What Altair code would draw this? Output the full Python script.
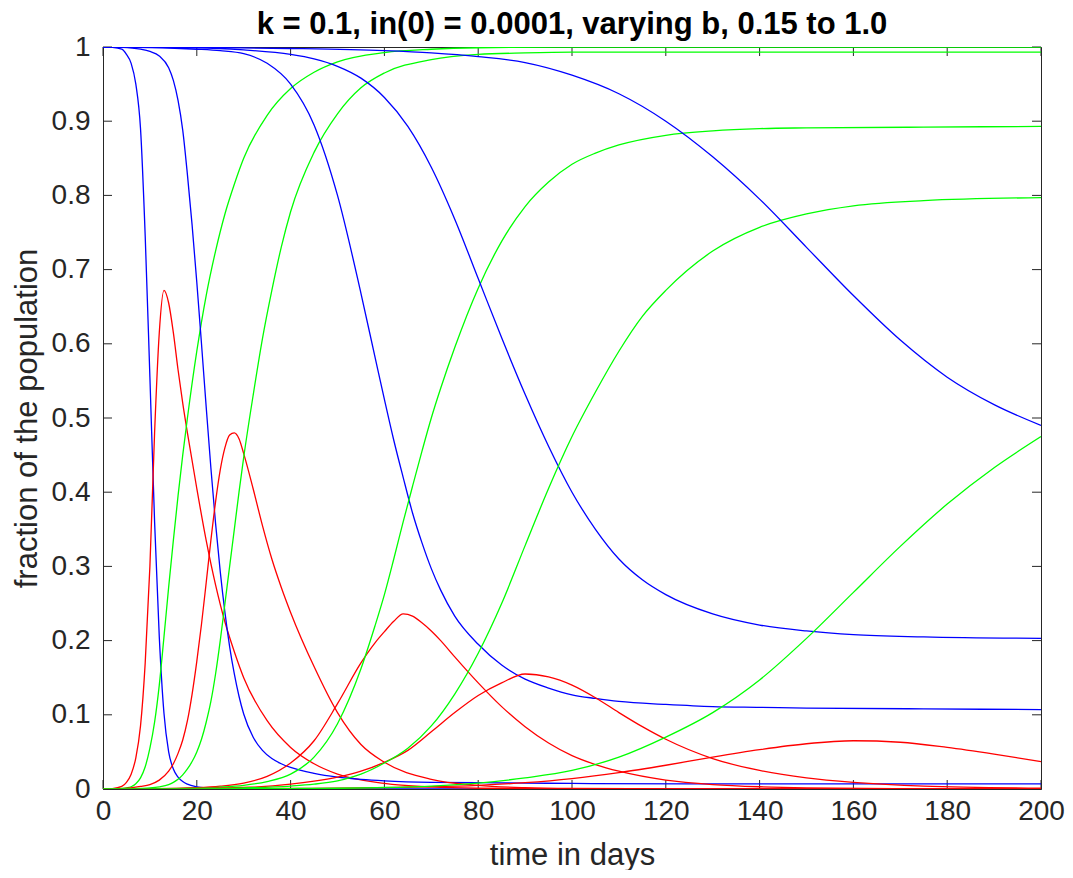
import altair as alt
import pandas as pd

# ---- data (t in days, fractions of population) ----
t_b100 = [0, 2, 4, 5, 6, 7, 8, 9, 10, 11, 12, 13, 14, 15, 16, 17, 18, 20, 22, 24,
          26, 28, 30, 35, 40, 45, 50, 60, 70, 80, 100, 125, 150, 175, 200]
S_b100 = [1.0, 0.9995, 0.997, 0.99, 0.978, 0.95, 0.89, 0.745, 0.555, 0.36,
          0.205, 0.102, 0.05, 0.027, 0.016, 0.01, 0.0065, 0.003, 0.0014, 0.0007,
          0.0004, 0.0002, 0.0001, 0.00006, 0.00005, 0.00005, 0.00005, 0.00005, 0.00005, 0.00005,
          0.00005, 0.00005, 0.00005, 0.00005, 0.00005]
I_b100 = [0.0001, 0.0006, 0.0035, 0.009, 0.02, 0.042, 0.085, 0.17, 0.3, 0.48,
          0.615, 0.672, 0.655, 0.615, 0.565, 0.52, 0.48, 0.405, 0.335, 0.275,
          0.225, 0.185, 0.15, 0.092, 0.056, 0.034, 0.02, 0.0075, 0.0028, 0.001,
          0.00015, 0.00001, 0.0, 0.0, 0.0]
R_b100 = [0.0, 0.0002, 0.0008, 0.0015, 0.003, 0.007, 0.015, 0.03, 0.055, 0.09,
          0.14, 0.205, 0.272, 0.335, 0.395, 0.45, 0.5, 0.59, 0.665, 0.725,
          0.775, 0.815, 0.85, 0.908, 0.944, 0.966, 0.98, 0.9925, 0.997, 0.999,
          1.0, 1.0, 1.0, 1.0, 1.0]

t_b050 = [0, 4, 8, 10, 12, 14, 15, 16, 17, 18, 19, 20, 21, 22, 23, 24, 25, 26, 27, 28,
          29, 30, 32, 34, 36, 38, 40, 45, 50, 55, 60, 70, 80, 90, 100, 125, 150, 175, 200]
S_b050 = [1.0, 0.9995, 0.997, 0.994, 0.988, 0.972, 0.955, 0.928, 0.888, 0.828,
          0.76, 0.683, 0.6, 0.515, 0.433, 0.358, 0.293, 0.238, 0.192, 0.155,
          0.125, 0.101, 0.07, 0.052, 0.041, 0.034, 0.029, 0.021, 0.016, 0.013,
          0.011, 0.009, 0.0085, 0.008, 0.0075, 0.007, 0.007, 0.007, 0.007]
I_b050 = [0.0001, 0.0006, 0.0035, 0.006, 0.012, 0.024, 0.034, 0.048, 0.066, 0.092,
          0.128, 0.172, 0.222, 0.278, 0.335, 0.387, 0.43, 0.46, 0.477, 0.48,
          0.472, 0.452, 0.405, 0.355, 0.31, 0.272, 0.238, 0.165, 0.103, 0.06,
          0.036, 0.013, 0.005, 0.0018, 0.0007, 0.0001, 0.0, 0.0, 0.0]
R_b050 = [0.0, 0.0001, 0.0008, 0.0015, 0.003, 0.006, 0.009, 0.013, 0.019, 0.027,
          0.037, 0.05, 0.067, 0.09, 0.118, 0.155, 0.2, 0.25, 0.3, 0.35,
          0.4, 0.447, 0.53, 0.607, 0.672, 0.73, 0.778, 0.858, 0.91, 0.945,
          0.965, 0.983, 0.99, 0.992, 0.993, 0.993, 0.993, 0.993, 0.993]

t_b025 = [0, 10, 20, 25, 30, 35, 40, 45, 50, 55, 58, 60, 62, 64, 66, 68, 70, 72, 75, 80,
          85, 90, 95, 100, 105, 110, 120, 130, 140, 150, 175, 200]
S_b025 = [1.0, 0.9993, 0.997, 0.995, 0.991, 0.978, 0.95, 0.895, 0.8, 0.668,
          0.582, 0.525, 0.47, 0.42, 0.372, 0.332, 0.297, 0.268, 0.233, 0.195,
          0.167, 0.148, 0.136, 0.127, 0.122, 0.118, 0.114, 0.111, 0.11, 0.109,
          0.108, 0.107]
I_b025 = [0.0001, 0.0004, 0.0018, 0.0038, 0.008, 0.017, 0.035, 0.065, 0.115, 0.17,
          0.197, 0.212, 0.226, 0.236, 0.233, 0.224, 0.213, 0.2, 0.178, 0.143,
          0.111, 0.084, 0.062, 0.045, 0.033, 0.024, 0.012, 0.006, 0.003, 0.0015,
          0.0003, 0.0001]
R_b025 = [0.0, 0.0002, 0.001, 0.0025, 0.005, 0.01, 0.02, 0.043, 0.088, 0.162,
          0.22, 0.262, 0.31, 0.36, 0.408, 0.455, 0.5, 0.54, 0.595, 0.675,
          0.738, 0.785, 0.818, 0.842, 0.857, 0.868, 0.881, 0.887, 0.89, 0.891,
          0.892, 0.893]

t_b020 = [0, 20, 30, 40, 45, 50, 55, 60, 65, 70, 75, 80, 85, 90, 95, 100, 105, 110, 115, 120,
          130, 140, 150, 160, 175, 200]
S_b020 = [1.0, 0.999, 0.996, 0.99, 0.984, 0.974, 0.958, 0.932, 0.893, 0.838,
          0.768, 0.688, 0.608, 0.532, 0.462, 0.4, 0.35, 0.31, 0.282, 0.262,
          0.236, 0.221, 0.213, 0.208, 0.205, 0.203]
I_b020 = [0.0001, 0.0008, 0.002, 0.0065, 0.0105, 0.016, 0.024, 0.036, 0.052, 0.077,
          0.103, 0.126, 0.143, 0.155, 0.151, 0.14, 0.123, 0.103, 0.084, 0.067,
          0.041, 0.025, 0.015, 0.009, 0.004, 0.0013]
R_b020 = [0.0, 0.0002, 0.0015, 0.004, 0.0065, 0.011, 0.02, 0.035, 0.055, 0.085,
          0.128, 0.183, 0.25, 0.328, 0.405, 0.475, 0.535, 0.59, 0.637, 0.672,
          0.725, 0.757, 0.775, 0.786, 0.793, 0.797]

t_b015 = [0, 20, 40, 60, 70, 80, 90, 100, 110, 120, 130, 140, 150, 160, 170, 180, 190, 200]
S_b015 = [1.0, 0.9995, 0.998, 0.995, 0.992, 0.987, 0.979, 0.962, 0.937, 0.9,
          0.852, 0.795, 0.73, 0.665, 0.605, 0.555, 0.518, 0.49]
I_b015 = [0.0001, 0.0003, 0.0007, 0.0019, 0.003, 0.005, 0.0085, 0.014, 0.022, 0.032,
          0.043, 0.053, 0.061, 0.065, 0.063, 0.056, 0.047, 0.037]
R_b015 = [0.0, 0.0002, 0.0006, 0.002, 0.004, 0.008, 0.015, 0.025, 0.043, 0.07,
          0.103, 0.147, 0.203, 0.265, 0.327, 0.384, 0.433, 0.475]

x_ticks = [0, 20, 40, 60, 80, 100, 120, 140, 160, 180, 200]
y_ticks = [0, 0.1, 0.2, 0.3, 0.4, 0.5, 0.6, 0.7, 0.8, 0.9, 1.0]

# ---- build long table ----
groups = [
    ("1.0", t_b100, S_b100, I_b100, R_b100),
    ("0.5", t_b050, S_b050, I_b050, R_b050),
    ("0.25", t_b025, S_b025, I_b025, R_b025),
    ("0.2", t_b020, S_b020, I_b020, R_b020),
    ("0.15", t_b015, S_b015, I_b015, R_b015),
]
rows = []
for b, t, S, I, R in groups:
    for kind, vals in (("S", S), ("I", I), ("R", R)):
        assert len(vals) == len(t), (b, kind)
        for ti, vi in zip(t, vals):
            rows.append({"t": ti, "v": vi, "kind": kind, "series": f"{kind}_{b}"})
df = pd.DataFrame(rows)

W, H = 938, 742
AX = "#262626"
FONT = "Liberation Sans"

x_scale = alt.Scale(domain=[0, 200], nice=False, zero=False)
y_scale = alt.Scale(domain=[0, 1], nice=False)

lines = alt.Chart(df).mark_line(strokeWidth=1.3, interpolate="monotone", clip=True).encode(
    x=alt.X("t:Q", scale=x_scale,
            axis=alt.Axis(values=x_ticks, title="time in days", grid=False, tickSize=0,
                          labelFlush=False, labelPadding=8, titlePadding=15)),
    y=alt.Y("v:Q", scale=y_scale,
            axis=alt.Axis(values=y_ticks, format=".1~f", title="fraction of the population",
                          grid=False, tickSize=0, labelFlush=False,
                          labelPadding=13, titlePadding=8)),
    color=alt.Color("kind:N", scale=alt.Scale(domain=["S", "I", "R"],
                                              range=["#0000FF", "#FF0000", "#00FF00"]),
                    legend=None),
    detail="series:N",
)

xt = pd.DataFrame({"t": x_ticks})
yt = pd.DataFrame({"v": y_ticks})
TL = 9
tick_bottom = alt.Chart(xt).mark_rule(color=AX, strokeWidth=1).encode(
    x=alt.X("t:Q", scale=x_scale), y=alt.value(H), y2=alt.value(H - TL))
tick_top = alt.Chart(xt).mark_rule(color=AX, strokeWidth=1).encode(
    x=alt.X("t:Q", scale=x_scale), y=alt.value(0), y2=alt.value(TL))
tick_left = alt.Chart(yt).mark_rule(color=AX, strokeWidth=1).encode(
    y=alt.Y("v:Q", scale=y_scale), x=alt.value(0), x2=alt.value(TL))
tick_right = alt.Chart(yt).mark_rule(color=AX, strokeWidth=1).encode(
    y=alt.Y("v:Q", scale=y_scale), x=alt.value(W), x2=alt.value(W - TL))

chart = alt.layer(tick_bottom, tick_top, tick_left, tick_right, lines).properties(
    width=W, height=H,
    title=alt.TitleParams("k = 0.1, in(0) = 0.0001, varying b, 0.15 to 1.0",
                          fontSize=31, fontWeight="bold", font=FONT, color="#000000",
                          anchor="middle", offset=0, dy=8),
    padding={"left": 95, "top": 39, "right": 24, "bottom": 81},
    autosize=alt.AutoSizeParams(type="none"),
).configure_view(
    stroke=AX, strokeWidth=1
).configure_axis(
    domainColor=AX, domainWidth=1, labelColor=AX, titleColor=AX,
    labelFont=FONT, titleFont=FONT, labelFontSize=28, titleFontSize=31,
    titleFontWeight="normal",
)

chart.save("out.html", embed_options={"renderer": "svg", "actions": False})
